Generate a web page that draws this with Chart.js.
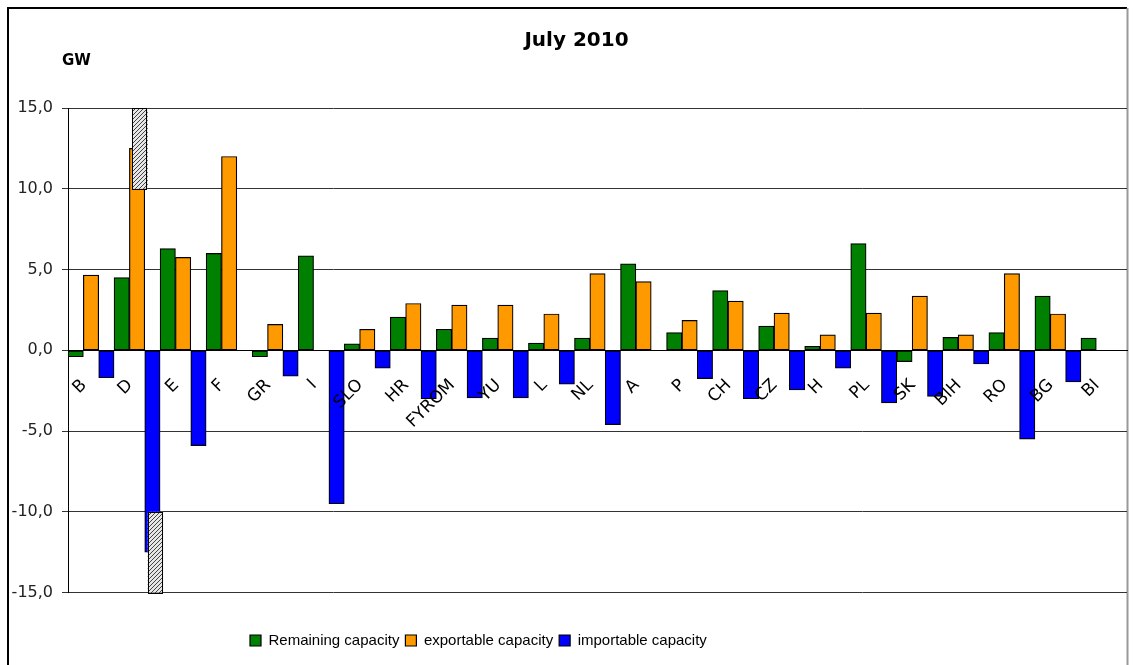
<!DOCTYPE html>
<html>
<head>
<meta charset="utf-8">
<title>July 2010</title>
<script src="https://cdn.jsdelivr.net/npm/chart.js@4.4.1/dist/chart.umd.min.js"></script>
<style>
  html, body { margin: 0; padding: 0; background: #fff; }
  canvas { display: block; }
</style>
</head>
<body>
<canvas id="chart" width="1135" height="665"></canvas>
<script>
// values, GW
const countries  = ['B', 'D', 'E', 'F', 'GR', 'I', 'SLO', 'HR', 'FYROM', 'YU', 'L', 'NL', 'A', 'P', 'CH', 'CZ', 'H', 'PL', 'SK', 'BIH', 'RO', 'BG', 'BI'];
const remaining  = [-0.4, 4.5, 6.3, 6.0, -0.4, 5.85, 0.4, 2.05, 1.3, 0.75, 0.45, 0.75, 5.35, 1.1, 3.7, 1.5, 0.25, 6.6, -0.7, 0.8, 1.1, 3.35, 0.75];
const exportable = [4.65, 12.5, 5.75, 12.0, 1.6, null, 1.3, 2.9, 2.8, 2.8, 2.25, 4.75, 4.25, 1.85, 3.05, 2.3, 0.95, 2.3, 3.35, 0.95, 4.75, 2.25, null];
const importable = [-1.7, -12.5, -5.9, null, -1.6, -9.5, -1.1, -3.0, -2.95, -2.95, -2.1, -4.6, null, -1.75, -3.0, -2.45, -1.1, -3.25, -2.85, -0.85, -5.5, -1.95, null];
const yTicks = [-15, -10, -5, 0, 5, 10, 15];

// the hatched "axis break" boxes on D
const breakCategory = 'D';
const breakMarks = [
  { dataset: 1, from: 10, to: 15 },
  { dataset: 2, from: -10, to: -15 }
];

const hatch = (() => {
  const c = document.createElement('canvas');
  c.width = 4; c.height = 4;
  const g = c.getContext('2d');
  g.fillStyle = '#e6e6e6';
  g.fillRect(0, 0, 4, 4);
  g.strokeStyle = '#444';
  g.lineWidth = 1;
  g.beginPath();
  g.moveTo(0, 4); g.lineTo(4, 0);
  g.moveTo(-1, 1); g.lineTo(1, -1);
  g.moveTo(3, 5); g.lineTo(5, 3);
  g.stroke();
  return c;
})();

const framePlugin = {
  id: 'frame',
  beforeDraw(chart) {
    const { ctx, chartArea } = chart;
    ctx.save();
    ctx.fillStyle = '#fff';
    ctx.fillRect(0, 0, chart.width, chart.height);
    ctx.lineWidth = 2;
    ctx.strokeStyle = '#000';
    ctx.beginPath();
    ctx.moveTo(8, chart.height);
    ctx.lineTo(8, 8);
    ctx.lineTo(chartArea.right, 8);
    ctx.stroke();
    ctx.strokeStyle = '#999';
    ctx.beginPath();
    ctx.moveTo(chartArea.right + 0.5, 8);
    ctx.lineTo(chartArea.right + 0.5, chart.height);
    ctx.stroke();
    ctx.restore();
  },
  afterLayout(chart) {
    // legend row starts left of centre in the original
    const lg = chart.legend;
    const pad = lg.options.labels.padding;
    const start = (lg.left + pad + lg.right - lg.lineWidths[0]) / 2;
    const shift = 250 - start;
    lg.left += shift;
    lg.right += shift;
    // title sits a little right of centre
    chart.titleBlock.left += 13;
    chart.titleBlock.right += 13;
  },
  afterDatasetsDraw(chart) {
    const { ctx, scales } = chart;
    const idx = countries.indexOf(breakCategory);
    ctx.save();
    const pattern = ctx.createPattern(hatch, 'repeat');
    breakMarks.forEach(m => {
      const bar = chart.getDatasetMeta(m.dataset).data[idx];
      if (!bar) return;
      const w = bar.width;
      const x0 = bar.x - w / 2 + 3;
      const y0 = scales.y.getPixelForValue(Math.max(m.from, m.to));
      const y1 = scales.y.getPixelForValue(Math.min(m.from, m.to));
      ctx.fillStyle = pattern;
      ctx.fillRect(x0, y0, w, y1 - y0);
      ctx.strokeStyle = '#000';
      ctx.lineWidth = 1;
      ctx.strokeRect(Math.round(x0) + 0.5, Math.round(y0) + 0.5, Math.round(w) - 1, Math.round(y1 - y0));
    });
    ctx.restore();
  },
  afterDraw(chart) {
    const { ctx, chartArea } = chart;
    ctx.save();
    ctx.font = 'bold 15px "DejaVu Sans"';
    ctx.fillStyle = '#000';
    ctx.textBaseline = 'middle';
    ctx.textAlign = 'left';
    ctx.fillText('GW', chartArea.left - 6, chartArea.top - 47);
    ctx.restore();
  }
};

const barStyle = {
  borderColor: '#000',
  borderWidth: 1.2,
  borderSkipped: false,
  categoryPercentage: 1,
  barPercentage: 1,
  xAxisID: 'x'
};

new Chart(document.getElementById('chart'), {
  type: 'bar',
  data: {
    labels: countries,
    datasets: [
      { label: 'Remaining capacity', data: remaining, backgroundColor: '#008000', ...barStyle },
      { label: 'exportable capacity', data: exportable, backgroundColor: '#FF9900', ...barStyle },
      { label: 'importable capacity', data: importable, backgroundColor: '#0000FF', ...barStyle }
    ]
  },
  options: {
    responsive: false,
    animation: false,
    layout: { padding: { left: 0, right: 8, top: 0, bottom: 7 } },
    plugins: {
      title: {
        display: true,
        text: 'July 2010',
        color: '#000',
        font: { family: 'DejaVu Sans', size: 20, weight: 'bold' },
        padding: { top: 29, bottom: 55 }
      },
      legend: {
        position: 'bottom',
        title: { display: true, text: '', padding: { top: 20, bottom: 0 }, font: { size: 12 } },
        labels: {
          boxWidth: 11,
          boxHeight: 11,
          padding: 6,
          color: '#000',
          font: { family: 'Liberation Sans', size: 15 }
        }
      },
      tooltip: { enabled: false }
    },
    scales: {
      x: {
        position: { y: 0 },
        afterFit: s => { s.paddingLeft = 0; s.paddingRight = 0; },
        grid: { display: false, drawTicks: false },
        border: { display: true, color: '#000', width: 1, z: 1 },
        ticks: {
          z: 1,
          autoSkip: false,
          minRotation: 45,
          maxRotation: 45,
          padding: 25,
          labelOffset: -7,
          color: '#000',
          font: { family: 'DejaVu Sans', size: 17 }
        }
      },
      y: {
        min: -15,
        max: 15,
        afterFit: s => { s.width = 68; },
        afterBuildTicks: s => { s.ticks = yTicks.map(v => ({ value: v })); },
        grid: { color: '#333', lineWidth: 1, drawTicks: true, tickLength: 6 },
        border: { color: '#000', width: 1 },
        ticks: {
          padding: 9,
          color: '#222',
          font: { family: 'DejaVu Sans', size: 16 },
          callback: v => v.toFixed(1).replace('.', ',')
        }
      }
    }
  },
  plugins: [framePlugin]
});
</script>
</body>
</html>
